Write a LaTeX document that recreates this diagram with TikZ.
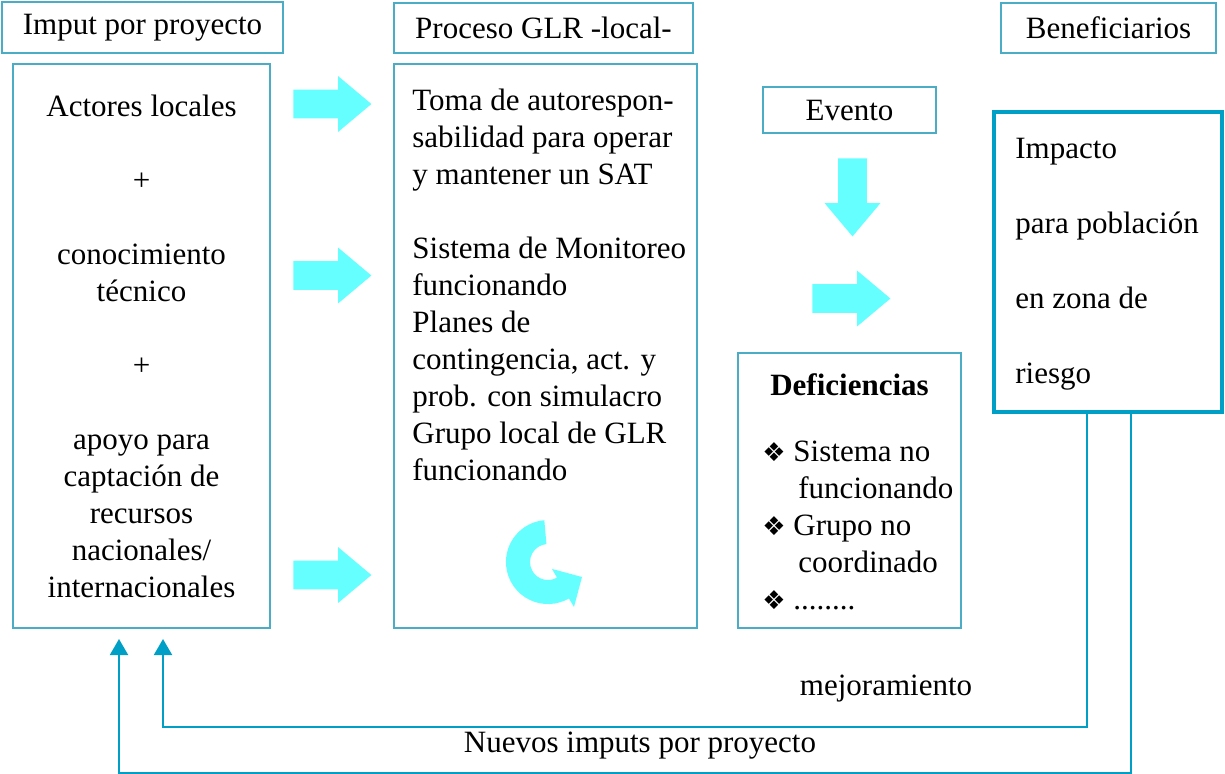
\documentclass[tikz,border=0pt]{standalone}
\usepackage{fontspec}
\setmainfont{Liberation Serif}
\newfontfamily\symfont{DejaVu Sans}
\usetikzlibrary{shapes.arrows,arrows.meta}
\definecolor{boxline}{RGB}{75,172,198}
\definecolor{fbline}{RGB}{0,160,198}
\definecolor{bigarrow}{RGB}{102,255,255}
\newcommand{\diam}{{\symfont\fontsize{13}{15}\selectfont ❖}}

\begin{document}
\begin{tikzpicture}[x=0.5pt,y=-0.5pt]
        \tikzstyle{box} = [rectangle, draw=boxline, line width=1pt, inner sep=0pt]
        \tikzstyle{txt} = [font=\fontsize{15.5}{18.5}\selectfont, inner sep=0pt]
        \tikzstyle{blockarrow} = [single arrow, fill=bigarrow, draw=none, minimum height=39pt, minimum width=27.5pt, text height=7pt, text depth=7pt, single arrow head extend=6.75pt, single arrow tip angle=80, inner sep=0pt, anchor=tip]
        \tikzstyle{fb} = [draw=fbline, line width=1pt, -{Triangle[width=9pt,length=8pt]}]

        \useasboundingbox (0,0) rectangle (1225,773);

        \node (imput) [box, txt, minimum width=140.5pt, minimum height=25.5pt] at (142.5,27.5) {Imput por proyecto};
        \node (proceso) [box, txt, minimum width=149.5pt, minimum height=25pt] at (543.5,28) {Proceso GLR -local-};
        \node (benef) [box, txt, minimum width=107.5pt, minimum height=25pt] at (1108.5,28) {Beneficiarios};

        \node (actores) [box, txt, align=center, minimum width=128.5pt, minimum height=282pt] at (141.5,346) {Actores locales\\[18.5pt] +\\[18.5pt] conocimiento\\ técnico\\[18.5pt] +\\[18.5pt] apoyo para\\ captación de\\ recursos\\ nacionales/\\ internacionales};

        \node (glr) [box, minimum width=151.5pt, minimum height=282pt] at (545.5,346) {};
        \node (glrtxt) [txt, align=left, anchor=north west] at (412,89) {Toma de autorespon-\\ sabilidad para operar\\ y mantener un SAT\\[18.5pt] Sistema de Monitoreo\\ funcionando\\ Planes de\\ contingencia, act. y\\ prob. con simulacro\\ Grupo local de GLR\\ funcionando};

        \node (evento) [box, txt, minimum width=86.5pt, minimum height=23pt] at (849.5,110) {Evento};

        \node (defi) [box, minimum width=111.5pt, minimum height=137.5pt] at (849.5,490.5) {};
        \node (defititle) [txt] at (849.5,385) {\textbf{Deficiencias}};
        \node (defilist) [txt, align=left, anchor=west] at (762,525) {\diam\ Sistema no\\ \hspace*{18pt}funcionando\\ \diam\ Grupo no\\ \hspace*{18pt}coordinado\\ \diam\ ........};

        \node (impacto) [box, draw=fbline, line width=1.75pt, minimum width=114pt, minimum height=150pt] at (1108,262) {};
        \node (impactotxt) [txt, align=left, anchor=west] at (1015,264) {Impacto\\[19pt] para población\\[19pt] en zona de\\[19pt] riesgo};

        \node (arrone) [blockarrow] at (372,104) {};
        \node (arrtwo) [blockarrow] at (372,275.5) {};
        \node (arrthree) [blockarrow] at (372,575) {};
        \node (arrdown) [blockarrow, rotate=-90] at (852.5,237) {};
        \node (arrright) [blockarrow] at (891,298.5) {};

        \fill[bigarrow] (544.3,520.2) arc[start angle=265, end angle=60, radius=42] -- (574,607) -- (582,577) -- (552,568.9) -- (557,577.6) arc[start angle=60, end angle=265, radius=18] -- cycle;

        \coordinate (fbin) at (163,639);
        \coordinate (fbout) at (119,639);
        \draw[fb] ([xshift=-10.5pt]impacto.south) -- ++(0,313) -| (fbin);
        \draw[fb] ([xshift=11.5pt]impacto.south) -- ++(0,359) -| (fbout);

        \node (mejlbl) [txt] at (886,689) {mejoramiento};
        \node (nuevoslbl) [txt] at (640,746) {Nuevos imputs por proyecto};
    \end{tikzpicture}
\end{document}
